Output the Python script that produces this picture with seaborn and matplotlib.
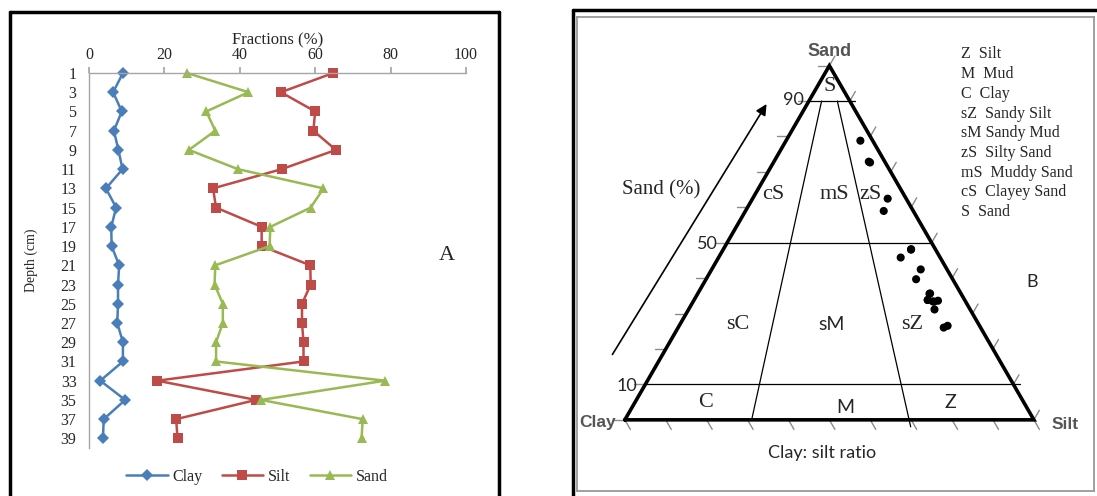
import numpy as np
import pandas as pd
import matplotlib.pyplot as plt
import seaborn as sns
from matplotlib.lines import Line2D

# depth profile (cm) and grain size fractions (%)
depth = [1, 3, 5, 7, 9, 11, 13, 15, 17, 19, 21, 23, 25, 27, 29, 31, 33, 35, 37, 39]
clay = [9.0, 6.4, 8.7, 6.6, 7.8, 8.9, 4.5, 7.2, 5.9, 6.0, 8.0, 7.7, 7.7, 7.5, 9.0, 9.0, 3.0, 9.6, 3.9, 3.7]
silt = [64.8, 50.9, 60.0, 59.5, 65.5, 51.1, 32.9, 33.7, 45.8, 45.8, 58.7, 58.8, 56.5, 56.5, 56.9, 56.9, 18.1, 44.3, 23.1, 23.5]
sand = [26.0, 42.3, 31.1, 33.5, 26.5, 39.5, 62.2, 58.8, 48.1, 47.9, 33.5, 33.3, 35.5, 35.5, 33.7, 33.7, 78.5, 45.6, 72.6, 72.3]

fractions = ['Clay', 'Silt', 'Sand']
colors = {'Clay': '#4a7ebb', 'Silt': '#be4b48', 'Sand': '#98b954'}
markers = {'Clay': 'D', 'Silt': 's', 'Sand': '^'}

# Folk classes used in the ternary legend
classes = ['Z  Silt', 'M  Mud', 'C  Clay', 'sZ  Sandy Silt', 'sM Sandy Mud',
           'zS  Silty Sand', 'mS  Muddy Sand', 'cS  Clayey Sand', 'S  Sand']

df = pd.DataFrame({
    'Depth': depth * 3,
    'Value': clay + silt + sand,
    'Fraction': ['Clay'] * len(depth) + ['Silt'] * len(depth) + ['Sand'] * len(depth),
})

sns.set_theme(style='white')
plt.rcParams['font.family'] = ['Liberation Serif', 'DejaVu Sans']

W, H = 1097, 496
fig = plt.figure(figsize=(W / 100, H / 100), dpi=100)

def fx(x):
    return x / W

def fy(y):
    return 1 - y / H

'''Left panel: depth profile'''
ax = fig.add_axes([fx(89), fy(448), (466 - 89) / W, (448 - 73) / H])
sns.lineplot(data=df, x='Value', y='Depth', hue='Fraction', style='Fraction',
             markers=markers, dashes=False, palette=colors, sort=False,
             estimator=None, orient='y', lw=1.8, markersize=6.5,
             markeredgewidth=0, clip_on=False, ax=ax)
ax.set_xlim(0, 100)
ax.set_ylim(40, 1)
ax.xaxis.tick_top()
ax.xaxis.set_label_position('top')
ax.set_xticks(range(0, 101, 20))
ax.set_yticks(depth)
for s in ['right', 'bottom']:
    ax.spines[s].set_visible(False)
for s in ['top', 'left']:
    ax.spines[s].set_color('#a6a6a6')
    ax.spines[s].set_linewidth(1)
ax.tick_params(axis='x', direction='out', length=4, color='#a6a6a6', labelsize=11.5, pad=3)
ax.tick_params(axis='y', direction='out', length=7, color='#a6a6a6', labelsize=11.5, pad=2)
ax.set_xlabel('Fractions (%)', fontsize=12)
ax.xaxis.set_label_coords(0.5, 1.075)
ax.set_ylabel('Depth (cm)', fontsize=10)
ax.yaxis.set_label_coords(-0.135, 0.5)

handles, labels = ax.get_legend_handles_labels()
ax.get_legend().remove()
fig.legend(handles, labels, loc='center', bbox_to_anchor=(fx(257), fy(477)), ncol=3,
           frameon=False, fontsize=11.5, handlelength=2.6, columnspacing=1.2, handletextpad=0.3)
fig.text(fx(447), fy(256), 'A', fontsize=16, ha='center', va='center')

# outer frames
lk = dict(transform=fig.transFigure, color='black', lw=2.5)
fig.add_artist(Line2D([fx(10), fx(499)], [fy(12), fy(12)], **lk))
fig.add_artist(Line2D([fx(10), fx(10)], [fy(12), fy(496)], **lk))
fig.add_artist(Line2D([fx(499), fx(499)], [fy(12), fy(496)], **lk))
fig.add_artist(Line2D([fx(573), fx(1097)], [fy(10), fy(10)], **lk))
fig.add_artist(Line2D([fx(573), fx(573)], [fy(10), fy(496)], **lk))

'''Right panel: ternary diagram'''
h = np.sqrt(3) / 2

def tern(sa, si, cl):
    tot = sa + si + cl
    return (si + sa / 2) / tot, sa / tot * h

ax2 = fig.add_axes([fx(577), fy(491), 517 / W, 474 / H])
ax2.set_xlim(-0.117, 1.147)
ax2.set_ylim(-0.174, 0.985)
ax2.set_xticks([])
ax2.set_yticks([])
for s in ax2.spines.values():
    s.set_color('#999999')
    s.set_linewidth(1.3)

# triangle outline
corners = [tern(0, 0, 1), tern(0, 1, 0), tern(1, 0, 0), tern(0, 0, 1)]
ax2.plot([c[0] for c in corners], [c[1] for c in corners], color='black', lw=2.6,
         solid_joinstyle='miter', zorder=3)

# sand class boundaries
thin = dict(color='black', lw=0.9, zorder=2)
for sa, ext in [(0.9, 0.012), (0.5, 0.0), (0.1, 0.017)]:
    x0, y0 = tern(sa, 0, 1 - sa)
    x1, y1 = tern(sa, 1 - sa, 0)
    ax2.plot([x0, x1 + ext], [y0, y1], **thin)
# clay:silt ratio boundaries (roughly 2:1 and 1:2 as drawn)
for r, ext in [(0.31, 0.0), (0.695, 0.017)]:
    x0, y0 = tern(0.9, 0.1 * r, 0.1 * (1 - r))
    x1, y1 = tern(0, r, 1 - r)
    k = ext / (y0 - y1)
    ax2.plot([x0, x1 + (x1 - x0) * k], [y0, y1 - ext], **thin)

# edge ticks
tk = dict(color='#8c8c8c', lw=1, zorder=1)
L = 0.027
for i in range(11):
    f = i / 10
    x, y = tern(f, 0, 1 - f)
    ax2.plot([x, x - L], [y, y], **tk)
    x, y = tern(f, 1 - f, 0)
    ax2.plot([x, x + L * 0.5], [y, y + L * h], **tk)
    x, y = tern(0, f, 1 - f)
    ax2.plot([x, x + L * 0.5], [y, y - L * h], **tk)

# samples
sx, sy = zip(*[tern(a, b, c) for a, b, c in zip(sand, silt, clay)])
sns.scatterplot(x=list(sx), y=list(sy), color='black', s=34, edgecolor='none', ax=ax2, zorder=5)

serif = dict(ha='center', va='center', family=['Liberation Serif', 'DejaVu Sans'])
sans = dict(ha='center', va='center', family=['Lato', 'DejaVu Sans'])
gray = dict(ha='center', va='center', family=['Liberation Sans', 'DejaVu Sans'],
            color='#555555', fontweight='bold')

ax2.text(0.501, 0.900, 'Sand', fontsize=13, **gray)
ax2.text(-0.066, -0.007, 'Clay', fontsize=12.5, **gray)
ax2.text(1.076, -0.012, 'Silt', fontsize=12.5, **gray)
ax2.text(0.501, 0.815, 'S', fontsize=16, **serif)
ax2.text(0.362, 0.550, 'cS', fontsize=16, **serif)
ax2.text(0.511, 0.550, 'mS', fontsize=16, **serif)
ax2.text(0.601, 0.550, 'zS', fontsize=16, **serif)
ax2.text(0.276, 0.232, 'sC', fontsize=16, **serif)
ax2.text(0.506, 0.232, 'sM', fontsize=14, **sans)
ax2.text(0.702, 0.232, 'sZ', fontsize=16, **serif)
ax2.text(0.198, 0.042, 'C', fontsize=16, **serif)
ax2.text(0.538, 0.030, 'M', fontsize=14, **sans)
ax2.text(0.795, 0.042, 'Z', fontsize=14, **sans)
ax2.text(0.413, 0.782, '90', fontsize=13, **sans)
ax2.text(0.203, 0.430, '50', fontsize=13, **sans)
ax2.text(0.005, 0.083, '10', fontsize=13, **sans)
ax2.text(0.090, 0.562, 'Sand (%)', fontsize=15, **serif)
ax2.text(0.482, -0.081, 'Clay: silt ratio', fontsize=13, **sans)
ax2.text(0.995, 0.337, 'B', fontsize=13, **sans)
ax2.annotate('', xy=(0.350, 0.778), xytext=(-0.034, 0.154),
             arrowprops=dict(arrowstyle='-|>', lw=1.2, color='black', mutation_scale=16))

for i, c in enumerate(classes):
    fig.text(fx(961), fy(54.5 + i * 19.7), c, fontsize=11.5, ha='left', va='center')

fig.savefig('out.png', dpi=100)
